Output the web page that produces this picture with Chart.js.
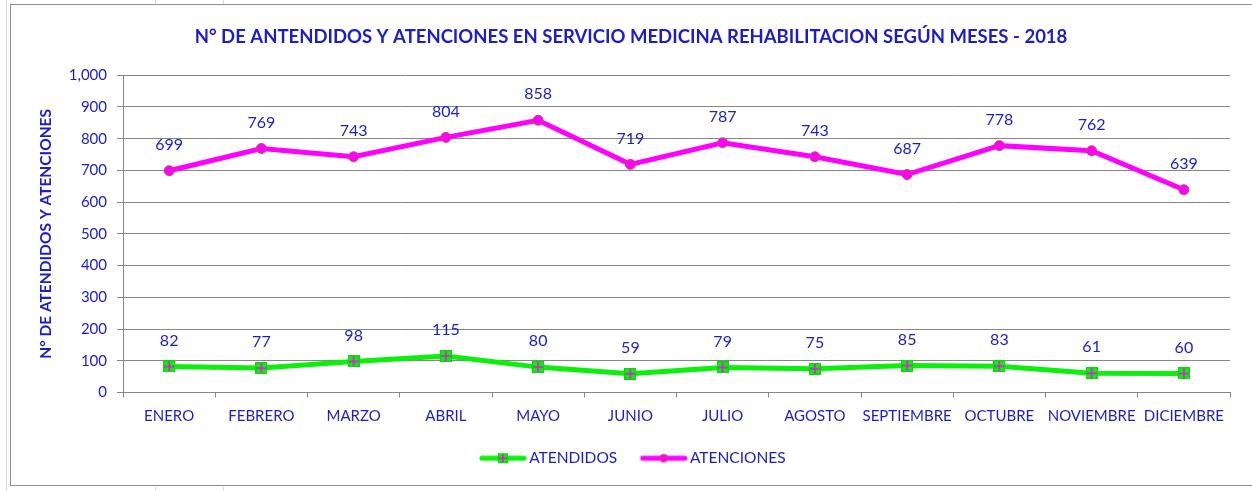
<!DOCTYPE html>
<html>
<head>
<meta charset="utf-8">
<script src="https://cdn.jsdelivr.net/npm/chart.js@4/dist/chart.umd.min.js"></script>
<style>
  html, body { margin: 0; padding: 0; background: #fff; }
  #wrap { position: relative; width: 1252px; height: 491px; overflow: hidden; }
  #frame { position: absolute; left: 10px; top: 4px; width: 1260px; height: 482px; border: 1px solid #8f8f8f; box-sizing: border-box; }
  .cell { position: absolute; background: #d9d9d9; }
  canvas { position: absolute; left: 0; top: 0; }
</style>
</head>
<body>
<div id="wrap">
  <div class="cell" style="left:6px;top:0;width:1px;height:491px"></div>
  <div class="cell" style="left:155px;top:0;width:1px;height:4px"></div>
  <div class="cell" style="left:223px;top:0;width:1px;height:4px"></div>
  <div class="cell" style="left:155px;top:487px;width:1px;height:4px"></div>
  <div class="cell" style="left:223px;top:487px;width:1px;height:4px"></div>
  <div id="frame"></div>
  <canvas id="chart" width="1252" height="491"></canvas>
</div>
<script>
const months = ['ENERO', 'FEBRERO', 'MARZO', 'ABRIL', 'MAYO', 'JUNIO', 'JULIO', 'AGOSTO', 'SEPTIEMBRE', 'OCTUBRE', 'NOVIEMBRE', 'DICIEMBRE'];
const atendidos = [82, 77, 98, 115, 80, 59, 79, 75, 85, 83, 61, 60];
const atenciones = [699, 769, 743, 804, 858, 719, 787, 743, 687, 778, 762, 639];

const blue = '#1c1cc8';
const green = '#0af00a';
const magenta = '#ff00ff';
const fontFamily = 'Lato, "Liberation Sans", sans-serif';

// square marker with a plus inside (atendidos)
function squarePlus(size) {
    let c = document.createElement('canvas');
    c.width = size; c.height = size;
    let g = c.getContext('2d');
    g.fillStyle = '#10d010';
    g.fillRect(0, 0, size, size);
    g.fillStyle = green;
    g.fillRect(1, 1, size - 2, size - 2);
    g.strokeStyle = magenta;
    g.lineWidth = 1.5;
    g.beginPath();
    g.moveTo(size / 2, 1); g.lineTo(size / 2, size - 1);
    g.moveTo(1, size / 2); g.lineTo(size - 1, size / 2);
    g.stroke();
    return c;
}

// legend sample: line with the marker in the middle
// (transparent margin on the left keeps the gap to the previous item)
function legendSample(color, kind) {
    let w = 60, h = 12;
    let x0 = 13, x1 = 55, mid = 34;
    let c = document.createElement('canvas');
    c.width = w; c.height = h;
    let g = c.getContext('2d');
    g.strokeStyle = color;
    g.lineWidth = 5;
    g.lineCap = 'round';
    g.beginPath();
    g.moveTo(x0, h / 2); g.lineTo(x1, h / 2);
    g.stroke();
    if (kind === 'square') {
        g.drawImage(squarePlus(10), mid - 5, h / 2 - 5);
    } else {
        g.fillStyle = magenta;
        g.strokeStyle = '#c0504d';
        g.lineWidth = 1;
        g.beginPath();
        g.arc(mid, h / 2, 4, 0, Math.PI * 2);
        g.fill(); g.stroke();
    }
    return c;
}

const valueLabels = {
    id: 'valueLabels',
    afterDatasetsDraw(chart) {
        let ctx = chart.ctx;
        ctx.save();
        ctx.font = '16px ' + fontFamily;
        ctx.fillStyle = blue;
        ctx.textAlign = 'center';
        ctx.textBaseline = 'middle';
        chart.data.datasets.forEach((ds, i) => {
            chart.getDatasetMeta(i).data.forEach((pt, j) => {
                ctx.fillText(ds.data[j], pt.x, pt.y - 26);
            });
        });
        ctx.restore();
    }
};

Chart.defaults.font.family = fontFamily;
Chart.defaults.color = blue;

new Chart(document.getElementById('chart'), {
    type: 'line',
    data: {
        labels: months,
        datasets: [{
            label: 'ATENDIDOS',
            data: atendidos,
            borderColor: green,
            backgroundColor: green,
            borderWidth: 5,
            pointStyle: squarePlus(12),
            tension: 0
        }, {
            label: 'ATENCIONES',
            data: atenciones,
            borderColor: magenta,
            backgroundColor: magenta,
            borderWidth: 5,
            pointStyle: 'circle',
            pointRadius: 5,
            pointBackgroundColor: magenta,
            pointBorderColor: '#c0504d',
            pointBorderWidth: 1,
            tension: 0
        }]
    },
    options: {
        responsive: false,
        animation: false,
        layout: {
            padding: { left: 32, right: 22, top: 0, bottom: 15 }
        },
        scales: {
            x: {
                offset: true,
                grid: {
                    offset: true,
                    drawOnChartArea: false,
                    drawTicks: true,
                    tickLength: 5,
                    color: '#868686'
                },
                border: { color: '#868686', width: 1 },
                ticks: {
                    color: blue,
                    padding: 10,
                    maxRotation: 0,
                    autoSkip: false,
                    font: { size: 15 }
                },
                afterFit: (scale) => { scale.height = 38; }
            },
            y: {
                min: 0,
                max: 1000,
                grid: {
                    color: '#868686',
                    tickLength: 6
                },
                border: { color: '#868686', width: 1 },
                ticks: {
                    stepSize: 100,
                    color: blue,
                    padding: 10,
                    font: { size: 15 },
                    callback: (v) => v.toLocaleString('en-US')
                },
                title: {
                    display: true,
                    text: 'N° DE ATENDIDOS Y ATENCIONES',
                    color: blue,
                    font: { size: 15.5, weight: 'bold' },
                    padding: { top: 5, bottom: 0 }
                },
                afterFit: (scale) => { scale.width = 91; }
            }
        },
        plugins: {
            title: {
                display: true,
                text: 'N° DE ANTENDIDOS Y ATENCIONES EN SERVICIO MEDICINA REHABILITACION SEGÚN MESES - 2018',
                color: blue,
                font: { size: 18.5, weight: 'bold' },
                padding: { top: 26, bottom: 27 }
            },
            legend: {
                position: 'bottom',
                labels: {
                    color: blue,
                    font: { size: 15.5 },
                    usePointStyle: true,
                    pointStyleWidth: 45,
                    padding: 20,
                    generateLabels: (chart) => [
                        { text: 'ATENDIDOS', pointStyle: legendSample(green, 'square'), fontColor: blue, datasetIndex: 0, lineWidth: 0 },
                        { text: 'ATENCIONES', pointStyle: legendSample(magenta, 'circle'), fontColor: blue, datasetIndex: 1, lineWidth: 0 }
                    ]
                }
            },
            tooltip: { enabled: false }
        }
    },
    plugins: [valueLabels]
});
</script>
</body>
</html>
